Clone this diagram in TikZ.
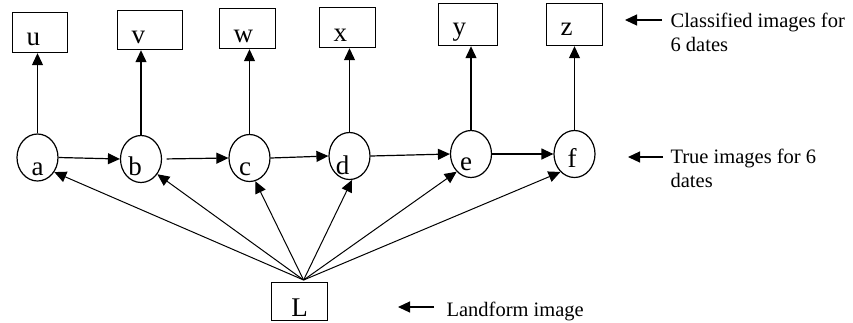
\documentclass[tikz,border=0pt]{standalone}
\usepackage{fontspec}
\setmainfont{Liberation Serif}
\usetikzlibrary{shapes.geometric,arrows.meta}
\begin{document}
\begin{tikzpicture}[x=1pt,y=-1pt,line width=1.2pt,
  arr/.style={-{Triangle[length=12pt,width=11pt]}},
  datebox/.style={draw,anchor=north west,inner xsep=14pt,inner ysep=0pt,
    align=left,font=\fontsize{27}{27}\selectfont},
  truevar/.style={draw,ellipse,inner sep=0pt,minimum width=41pt,minimum height=47pt},
  varlbl/.style={anchor=base,inner sep=0pt,font=\fontsize{27}{27}\selectfont},
  desc/.style={anchor=base west,inner sep=0pt,align=left,
    font=\fontsize{20.5}{24}\selectfont}]
\useasboundingbox (0,0) rectangle (853,322);

% classified images
\node[datebox,text width=27pt,text height=33pt,text depth=7pt]  (u) at (12,12) {u};
\node[datebox,text width=37pt,text height=33pt,text depth=6pt]  (v) at (117,10) {v};
\node[datebox,text width=28pt,text height=34pt,text depth=6pt]  (w) at (219,8) {w};
\node[datebox,text width=28pt,text height=34pt,text depth=6pt]  (x) at (319,7) {x};
\node[datebox,text width=31pt,text height=32pt,text depth=10pt] (y) at (438,3) {y};
\node[datebox,text width=28pt,text height=32pt,text depth=10pt] (z) at (546,3) {z};

% true images
\node[truevar] (a) at (37.5,157.5) {};
\node[truevar] (b) at (141,159) {};
\node[truevar] (c) at (249.5,158) {};
\node[truevar] (d) at (349.5,156) {};
\node[truevar] (e) at (471,154) {};
\node[truevar] (f) at (574.5,154) {};
\node[varlbl] (la) at (37.5,175) {a};
\node[varlbl] (lb) at (135,175) {b};
\node[varlbl] (lc) at (245,175) {c};
\node[varlbl] (ld) at (342.5,174) {d};
\node[varlbl] (le) at (466,170) {e};
\node[varlbl] (lf) at (572,167) {f};

% landform image
\node[datebox,align=center,text width=28pt,text height=34pt,text depth=4pt] (L) at (271,282) {L};
\coordinate (apex) at ([xshift=4pt,yshift=2pt]L.north);

% true -> classified
\foreach \s/\t in {a/u,b/v,c/w,d/x,e/y,f/z}
  \draw[arr] (\s.north) -- (\s.north |- \t.south);

% temporal chain
\draw[arr] (a.east) -- (b.west);
\draw[arr,shorten <=4.5pt] (b.east) -- (c.west);
\draw[arr] (c.east) -- (d.west);
\draw[arr] (d.east) -- (e.west);
\draw[arr] (e.east) -- (f.west);

% landform -> true images
\draw[arr,line width=1pt] (apex) -- (a.-41.5);
\draw[arr,line width=1pt] (apex) -- (b.-43);
\draw[arr,line width=1pt] (apex) -- (c.-76.5);
\draw[arr,line width=1pt] (apex) -- (d.-84);
\draw[arr,line width=1pt] (apex) -- (e.-129.5);
\draw[arr,line width=1pt] (apex) -- (f.-128);

% legend
\node[desc] (t1) at (670,51) {Classified images for\\6 dates};
\node[desc] (t2) at (670,187) {True images for 6\\dates};
\node[desc] (t3) at (446,316) {Landform image};
\coordinate (p1) at (625,20); \coordinate (q1) at (662,20);
\coordinate (p2) at (628,157);  \coordinate (q2) at (663,157);
\coordinate (p3) at (398,307);  \coordinate (q3) at (434,307);
\draw[arr] (q1) -- (p1);
\draw[arr] (q2) -- (p2);
\draw[arr] (q3) -- (p3);
\end{tikzpicture}
\end{document}
